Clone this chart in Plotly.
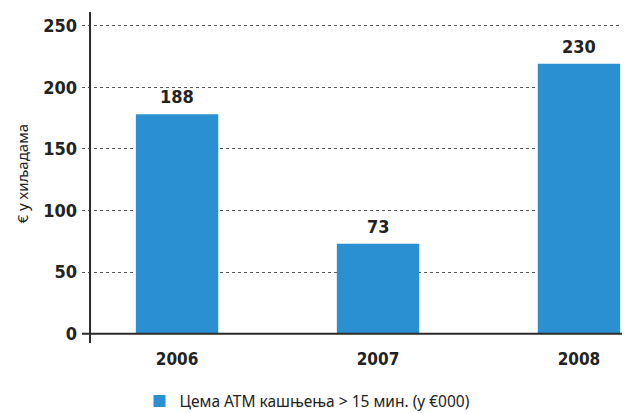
import plotly.graph_objects as go

years = ["2006", "2007", "2008"]
bar_values = [178, 73, 219]
bar_labels = ["188", "73", "230"]
series_name = "Цема АТМ кашњења > 15 мин. (у €000)"
y_title = "€ у хиљадама"
y_ticks = [0, 50, 100, 150, 200, 250]

BAR_COLOR = "#2b90d2"
AXIS_COLOR = "#2a2a2a"
NARROW = "DejaVu Sans Condensed, Liberation Sans Narrow, Roboto, sans-serif"

fig = go.Figure()

fig.add_trace(
    go.Bar(
        name=series_name,
        x=years,
        y=bar_values,
        width=0.41,
        marker=dict(color=BAR_COLOR, line=dict(width=0)),
        showlegend=True,
    )
)

# value labels above each bar (x given as category index)
for i, (val, lab) in enumerate(zip(bar_values, bar_labels)):
    fig.add_annotation(
        x=i, y=val, text=lab, showarrow=False,
        yanchor="bottom", yshift=5,
        font=dict(family=NARROW, size=18, color="#222", weight="bold"),
    )

# rotated y title
fig.add_annotation(
    xref="paper", yref="paper", x=-0.1095, y=0.512, text=y_title,
    showarrow=False, textangle=-90, xanchor="center", yanchor="middle",
    font=dict(family="Noto Sans, sans-serif", size=15, color="#222"),
)

# vertical axis line (runs a bit below zero) and the zero baseline
fig.add_shape(type="line", xref="x", yref="y", x0=-0.433, x1=-0.433, y0=-7.5, y1=261,
              line=dict(color=AXIS_COLOR, width=2))
fig.add_shape(type="line", xref="paper", yref="y", x0=0, x1=1, y0=0, y1=0,
              line=dict(color=AXIS_COLOR, width=2))

# page body adds an 8px offset, so margins are shifted to compensate
fig.update_layout(
    width=630,
    height=414,
    margin=dict(l=74, r=8, t=4, b=76),
    plot_bgcolor="white",
    paper_bgcolor="white",
    xaxis=dict(
        type="category",
        range=[-0.473, 2.254],
        showgrid=False,
        showline=False,
        zeroline=False,
        ticks="",
        automargin=False,
        ticklabelstandoff=4,
        tickfont=dict(family=NARROW, size=17, color="#222", weight="bold"),
    ),
    yaxis=dict(
        range=[-7.5, 261],
        tickvals=y_ticks,
        showgrid=True,
        gridcolor="#555",
        griddash="dot",
        gridwidth=1,
        zeroline=False,
        showline=False,
        ticks="",
        automargin=False,
        ticklabelstandoff=4,
        tickfont=dict(family=NARROW, size=18, color="#222", weight="bold"),
    ),
    legend=dict(
        orientation="h",
        x=0.4115,
        xanchor="center",
        y=-0.1767,
        yanchor="middle",
        font=dict(family="Noto Sans, sans-serif", size=15.5, color="#222"),
        itemwidth=30,
    ),
    bargap=0.5,
)

fig.write_html("out.html")
